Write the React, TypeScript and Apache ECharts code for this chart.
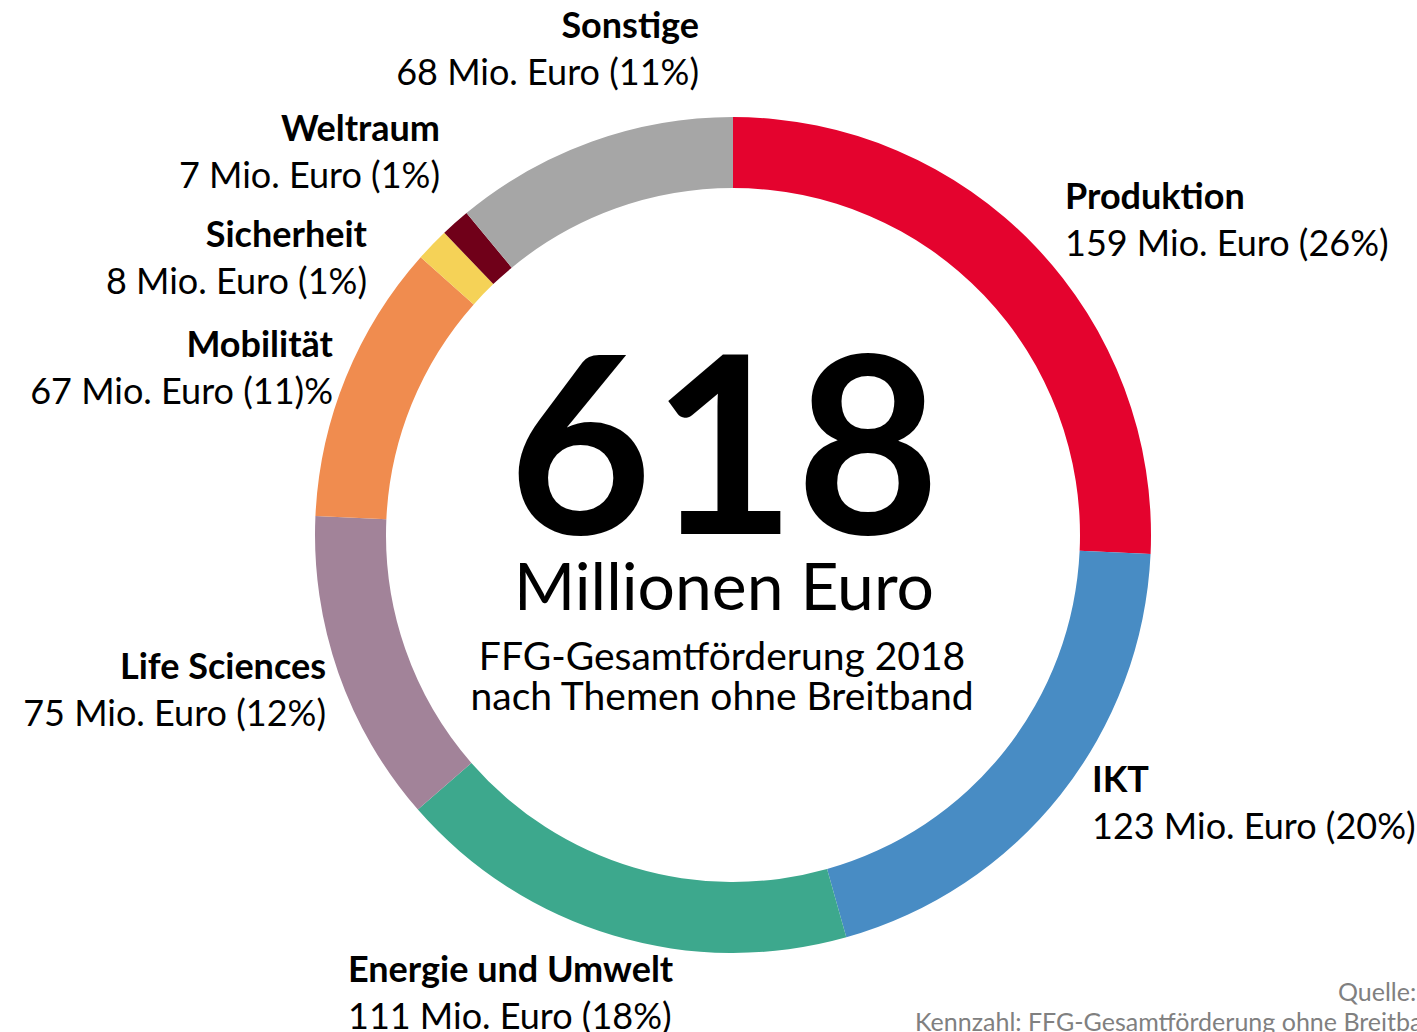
import React, { useEffect, useRef } from "react";
import * as echarts from "echarts";

const categories = ["Produktion", "IKT", "Energie und Umwelt", "Life Sciences", "Mobilität", "Sicherheit", "Weltraum", "Sonstige"];
const values = [159, 123, 111, 75, 67, 8, 7, 68];
const shareLabels = ["(26%)", "(20%)", "(18%)", "(12%)", "(11)%", "(1%)", "(1%)", "(11%)"];
const colors = ["#E4032E", "#488CC4", "#3DA88D", "#A28399", "#F08C4F", "#F5D257", "#700019", "#A6A6A6"];
const totalText = "618";
const unitText = "Millionen Euro";
const subtitleLines = ["FFG-Gesamtförderung 2018", "nach Themen ohne Breitband"];
const sourceLines = ["Quelle: FFG", "Kennzahl: FFG-Gesamtförderung ohne Breitband"];

// label anchor positions (center of first line), alignment
const labelPos = [
  { x: 1065, y: 195, align: "left" },
  { x: 1092, y: 778, align: "left" },
  { x: 348, y: 968, align: "left" },
  { x: 326, y: 665, align: "right" },
  { x: 333, y: 343, align: "right" },
  { x: 367, y: 233, align: "right" },
  { x: 440, y: 127, align: "right" },
  { x: 699, y: 24, align: "right" },
];

const FONT = "Lato";
const LH = 47;

export default function App() {
  const ref = useRef<HTMLDivElement>(null);
  useEffect(() => {
    if (!ref.current) return;
    const chart = echarts.init(ref.current, undefined, { renderer: "svg" });
    chart.setOption({
      animation: false,
      backgroundColor: "#ffffff",
      series: [
        {
          type: "pie",
          center: [733, 535],
          radius: [347, 418],
          startAngle: 90,
          clockwise: true,
          avoidLabelOverlap: false,
          silent: true,
          emphasis: { disabled: true },
          itemStyle: { borderWidth: 0 },
          labelLine: { show: false },
          label: {
            show: true,
            position: "outside",
            formatter: (p: any) => `{n|${p.name}}\n{v|${p.value} Mio. Euro ${shareLabels[p.dataIndex]}}`,
            rich: {
              n: { fontFamily: FONT, fontWeight: "bold", fontSize: 36, color: "#000", lineHeight: LH },
              v: { fontFamily: FONT, fontSize: 36, color: "#000", lineHeight: LH },
            },
          },
          labelLayout: (params: any) => {
            const p = labelPos[params.dataIndex];
            return { x: p.x, y: p.y - LH / 2, align: p.align, verticalAlign: "top", hideOverlap: false };
          },
          data: categories.map((c, i) => ({ name: c, value: values[i], itemStyle: { color: colors[i] } })),
        },
      ],
      graphic: [
        {
          type: "text",
          x: 724,
          y: 438,
          style: { text: totalText, fontFamily: FONT, fontWeight: "bold", fontSize: 248, lineHeight: 200, fill: "#000", align: "center", verticalAlign: "middle" },
        },
        {
          type: "text",
          x: 724,
          y: 584,
          style: { text: unitText, fontFamily: FONT, fontSize: 66, lineHeight: 66, fill: "#000", align: "center", verticalAlign: "middle" },
        },
        {
          type: "text",
          x: 722,
          y: 655,
          style: { text: subtitleLines[0], fontFamily: FONT, fontSize: 39, lineHeight: 38, fill: "#000", align: "center", verticalAlign: "middle" },
        },
        {
          type: "text",
          x: 722,
          y: 695,
          style: { text: subtitleLines[1], fontFamily: FONT, fontSize: 39, lineHeight: 38, fill: "#000", align: "center", verticalAlign: "middle" },
        },
        {
          type: "text",
          x: 1338,
          y: 991,
          style: { text: sourceLines[0], fontFamily: FONT, fontSize: 25, fill: "#808080", align: "left", verticalAlign: "middle" },
        },
        {
          type: "text",
          x: 915,
          y: 1021,
          style: { text: sourceLines[1], fontFamily: FONT, fontSize: 25, fill: "#808080", align: "left", verticalAlign: "middle" },
        },
      ],
    });
    return () => chart.dispose();
  }, []);
  return <div ref={ref} style={{ position: "fixed", left: 0, top: 0, width: 1417, height: 1032 }} />;
}
